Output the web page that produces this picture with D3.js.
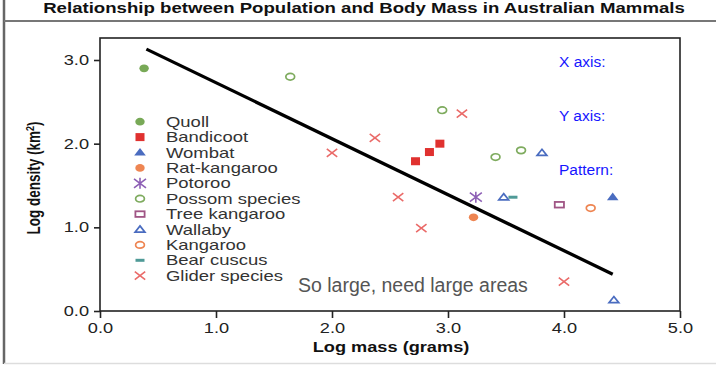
<!DOCTYPE html>
<html>
<head>
<meta charset="utf-8">
<script src="https://cdn.jsdelivr.net/npm/d3@7"></script>
<style>
  html, body { margin: 0; padding: 0; background: #fff; }
  svg { display: block; font-family: "Liberation Sans", Arial, sans-serif; }
</style>
</head>
<body>
<svg id="chart" width="716" height="366"></svg>
<script>
// ---------------- data ----------------
const speciesNames = ["Quoll","Bandicoot","Wombat","Rat-kangaroo","Potoroo","Possom species",
  "Tree kangaroo","Wallaby","Kangaroo","Bear cuscus","Glider species"];
const quollX = [0.38], quollY = [2.90];
const bandicootX = [2.72, 2.84, 2.93], bandicootY = [1.79, 1.90, 2.00];
const wombatX = [4.42], wombatY = [1.36];
const ratKangarooX = [3.22], ratKangarooY = [1.12];
const potorooX = [3.24], potorooY = [1.36];
const possumX = [1.64, 2.95, 3.41, 3.63], possumY = [2.80, 2.40, 1.84, 1.92];
const treeKangarooX = [3.96], treeKangarooY = [1.27];
const wallabyX = [3.81, 3.48, 4.43], wallabyY = [1.89, 1.36, 0.13];
const kangarooX = [4.23], kangarooY = [1.23];
const bearCuscusX = [3.56], bearCuscusY = [1.36];
const gliderX = [2.00, 2.37, 2.57, 2.77, 3.12, 4.00], gliderY = [1.89, 2.07, 1.36, 0.99, 2.36, 0.35];
const trendX = [0.40, 4.42], trendY = [3.13, 0.44];
const xTicks = [0, 1, 2, 3, 4, 5];
const yTicks = [0, 1, 2, 3];
const titleText = "Relationship between Population and Body Mass in Australian Mammals";
const xTitle = "Log mass (grams)";
const noteText = "So large, need large areas";
const sideLabels = ["X axis:", "Y axis:", "Pattern:"];

// ---------------- styles ----------------
const seriesX = [quollX, bandicootX, wombatX, ratKangarooX, potorooX, possumX, treeKangarooX, wallabyX, kangarooX, bearCuscusX, gliderX];
const seriesY = [quollY, bandicootY, wombatY, ratKangarooY, potorooY, possumY, treeKangarooY, wallabyY, kangarooY, bearCuscusY, gliderY];
const styles = [
  {shape: "circle", color: "#78a957", fill: true},
  {shape: "square", color: "#e0312f", fill: true},
  {shape: "triangle", color: "#4a6cc0", fill: true},
  {shape: "circle", color: "#ee8552", fill: true},
  {shape: "asterisk", color: "#8d5fb5"},
  {shape: "circle", color: "#7eab5e", fill: false},
  {shape: "osquare", color: "#a05585", fill: false},
  {shape: "triangle", color: "#4a6cc0", fill: false},
  {shape: "circle", color: "#ee8552", fill: false},
  {shape: "dash", color: "#4f9a97"},
  {shape: "cross", color: "#ea6a68"}
];
const SX = 1.3; // horizontal stretch of the original chart image

const svg = d3.select("#chart");
const W = 716, H = 366;
const x = d3.scaleLinear().domain([0, 5]).range([100, 680]);
const y = d3.scaleLinear().domain([0, 3.263]).range([311, 38]);

function stretchText(sel, tx, ty, sx) {
  sel.attr("x", 0).attr("y", 0).attr("transform", `translate(${tx},${ty}) scale(${sx},1)`);
  return sel;
}

// frame
svg.append("line").attr("x1", 4).attr("x2", 4).attr("y1", 0).attr("y2", 364)
  .attr("stroke", "#666").attr("stroke-width", 2.5);
svg.append("line").attr("x1", 4).attr("x2", W).attr("y1", 21).attr("y2", 21)
  .attr("stroke", "#777").attr("stroke-width", 2);
svg.append("line").attr("x1", 4).attr("x2", W).attr("y1", 363.5).attr("y2", 363.5)
  .attr("stroke", "#ddd").attr("stroke-width", 1.5);

// title
stretchText(svg.append("text").text(titleText), 364, 13, 1.33)
  .attr("text-anchor", "middle").attr("font-weight", "bold").attr("font-size", 14).attr("fill", "#111");

// plot box
svg.append("rect").attr("x", x(0)).attr("y", y(3.263)).attr("width", x(5) - x(0)).attr("height", y(0) - y(3.263))
  .attr("fill", "none").attr("stroke", "#222").attr("stroke-width", 1.6);

// axes
const gx = svg.append("g").attr("transform", `translate(0,${y(0)})`)
  .call(d3.axisBottom(x).tickValues(xTicks).tickFormat(d3.format(".1f")).tickSize(7).tickPadding(5));
gx.select(".domain").remove();
gx.selectAll(".tick line").attr("stroke", "#222").attr("stroke-width", 1.6);
gx.selectAll(".tick text").attr("font-size", 14).attr("fill", "#222")
  .attr("font-family", "Liberation Sans, Arial, sans-serif")
  .attr("transform", `scale(${SX},1)`);

const gy = svg.append("g").attr("transform", `translate(${x(0)},0)`)
  .call(d3.axisLeft(y).tickValues(yTicks).tickFormat(d3.format(".1f")).tickSize(6).tickPadding(5));
gy.select(".domain").remove();
gy.selectAll(".tick line").attr("stroke", "#222").attr("stroke-width", 1.6);
gy.selectAll(".tick text").attr("font-size", 14).attr("fill", "#222")
  .attr("font-family", "Liberation Sans, Arial, sans-serif")
  .attr("x", -11 / SX).attr("transform", `scale(${SX},1)`);

// axis titles
stretchText(svg.append("text").text(xTitle), 391, 352, SX)
  .attr("text-anchor", "middle").attr("font-weight", "bold").attr("font-size", 14).attr("fill", "#111");
const yt = svg.append("text").attr("transform", `translate(40,178) scale(${SX},1) rotate(-90)`)
  .attr("text-anchor", "middle").attr("font-weight", "bold").attr("font-size", 13.5).attr("fill", "#111");
yt.append("tspan").text("Log density (km");
yt.append("tspan").text("2").attr("font-size", 9).attr("dy", -5);
yt.append("tspan").text(")").attr("dy", 5);

// marker drawing
function drawMarker(g, st) {
  const c = st.color;
  switch (st.shape) {
    case "circle":
      if (st.fill) g.append("ellipse").attr("rx", 4.7).attr("ry", 3.9).attr("fill", c);
      else g.append("ellipse").attr("rx", 4.4).attr("ry", 3.3).attr("fill", "#fff").attr("stroke", c).attr("stroke-width", 1.7);
      break;
    case "square":
      g.append("rect").attr("x", -4.5).attr("y", -4).attr("width", 9).attr("height", 8).attr("fill", c);
      break;
    case "osquare":
      g.append("rect").attr("x", -4.6).attr("y", -2.8).attr("width", 9.2).attr("height", 5.6)
        .attr("fill", "#fff").attr("stroke", c).attr("stroke-width", 1.8);
      break;
    case "triangle":
      if (st.fill) g.append("path").attr("d", "M0,-4.6L5.8,3L-5.8,3Z").attr("fill", c);
      else g.append("path").attr("d", "M0,-3.6L4.9,2.6L-4.9,2.6Z").attr("fill", "#fff").attr("stroke", c).attr("stroke-width", 1.7);
      break;
    case "asterisk":
      g.append("path").attr("d", "M-6,-4.5L6,4.5M-6,4.5L6,-4.5M0,-5.5L0,5.5")
        .attr("stroke", c).attr("stroke-width", 1.6).attr("fill", "none");
      break;
    case "dash":
      g.append("path").attr("d", "M-4.5,0L4.5,0").attr("stroke", c).attr("stroke-width", 3).attr("fill", "none");
      break;
    case "cross":
      g.append("path").attr("d", "M-5.2,-4L5.2,4M-5.2,4L5.2,-4")
        .attr("stroke", c).attr("stroke-width", 1.6).attr("fill", "none");
      break;
  }
}

// regression line
svg.append("line")
  .attr("x1", x(trendX[0])).attr("y1", y(trendY[0]))
  .attr("x2", x(trendX[1])).attr("y2", y(trendY[1]))
  .attr("stroke", "#000").attr("stroke-width", 3.3);

// points
speciesNames.forEach((name, i) => {
  const xs = seriesX[i], ys = seriesY[i];
  xs.forEach((xv, j) => {
    const g = svg.append("g").attr("transform", `translate(${x(xv)},${y(ys[j])})`);
    drawMarker(g, styles[i]);
  });
});

// legend
const legStartY = 121.7, legStep = 15.4;
speciesNames.forEach((name, i) => {
  const ly = legStartY + i * legStep;
  const g = svg.append("g").attr("transform", `translate(140,${ly})`);
  drawMarker(g, styles[i]);
  stretchText(svg.append("text").text(name), 166, ly + 5, 1.32)
    .attr("font-size", 14).attr("fill", "#333");
});

// annotation
svg.append("text").attr("x", 298).attr("y", 292).text(noteText)
  .attr("font-size", 19.5).attr("fill", "#555");

// side labels (blue)
sideLabels.forEach((t, i) => {
  svg.append("text").attr("x", 559).attr("y", 67 + i * 54).text(t)
    .attr("font-size", 15.5).attr("fill", "#1616ff");
});
</script>
</body>
</html>
